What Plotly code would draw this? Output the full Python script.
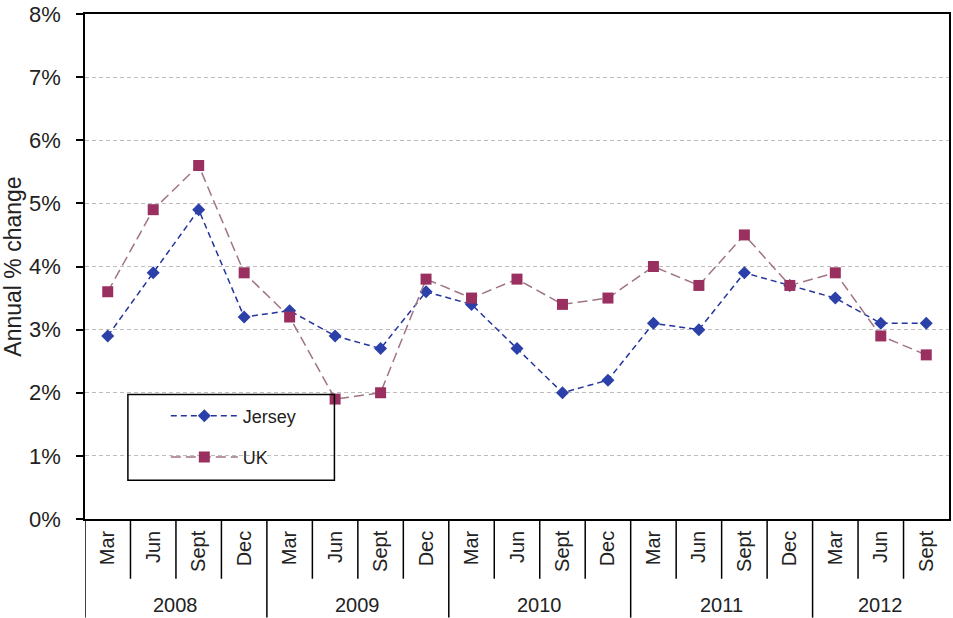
import plotly.graph_objects as go

# Quarterly annual % change, Jersey vs UK
years = ["2008", "2009", "2010", "2011", "2012"]
quarters_per_year = [4, 4, 4, 4, 3]
quarters = ["Mar", "Jun", "Sept", "Dec"] * 4 + ["Mar", "Jun", "Sept"]
jersey = [2.9, 3.9, 4.9, 3.2, 3.3, 2.9, 2.7, 3.6, 3.4, 2.7, 2.0, 2.2,
          3.1, 3.0, 3.9, 3.7, 3.5, 3.1, 3.1]
uk = [3.6, 4.9, 5.6, 3.9, 3.2, 1.9, 2.0, 3.8, 3.5, 3.8, 3.4, 3.5,
      4.0, 3.7, 4.5, 3.7, 3.9, 2.9, 2.6]
y_ticks = [0, 1, 2, 3, 4, 5, 6, 7, 8]
y_tick_labels = ["0%", "1%", "2%", "3%", "4%", "5%", "6%", "7%", "8%"]

W, H = 953, 618
ML, MR, MT, MB = 85, 2, 12, 99
plot_h = H - MT - MB
plot_w = W - ML - MR


def px_to_paper_y(py):
    return (H - MB - py) / plot_h


def px_to_paper_x(px):
    return (px - ML) / plot_w


idx = list(range(len(quarters)))
font = "Liberation Sans, Arial, sans-serif"

fig = go.Figure()
fig.add_trace(go.Scatter(
    x=idx, y=jersey, name="Jersey", mode="lines+markers",
    line=dict(color="#23349E", width=1.5, dash="6px,4px"),
    marker=dict(symbol="diamond", size=10, color="#2B40A8"),
    legendgroup="j",
))
fig.add_trace(go.Scatter(
    x=idx, y=uk, name="UK", mode="lines+markers",
    line=dict(color="#A07484", width=1.5, dash="10px,5px"),
    marker=dict(symbol="square", size=11, color="#99305F"),
    legendgroup="u",
))

shapes = []
# separators under the category axis
pos = -0.5
bounds_year = [pos]
for n in quarters_per_year:
    pos += n
    bounds_year.append(pos)
for b in bounds_year[:-1]:
    shapes.append(dict(type="line", xref="x", yref="paper", x0=b, x1=b,
                       y0=0, y1=px_to_paper_y(H), line=dict(color="black", width=1.5)))
for i in range(len(quarters) - 1):
    b = i + 0.5
    if b in bounds_year:
        continue
    shapes.append(dict(type="line", xref="x", yref="paper", x0=b, x1=b,
                       y0=0, y1=px_to_paper_y(579), line=dict(color="black", width=1.5)))

# legend frame
shapes.append(dict(type="rect", xref="paper", yref="paper",
                   x0=px_to_paper_x(128), x1=px_to_paper_x(335),
                   y0=px_to_paper_y(480), y1=px_to_paper_y(394),
                   line=dict(color="black", width=1.5), fillcolor="rgba(0,0,0,0)"))

annotations = []
start = 0
for yr, n in zip(years, quarters_per_year):
    center = start + (n - 1) / 2
    annotations.append(dict(x=center, y=px_to_paper_y(605), xref="x", yref="paper",
                            text=yr, showarrow=False, yanchor="middle",
                            font=dict(size=20, color="#222", family=font)))
    start += n

fig.update_layout(
    width=W, height=H,
    margin=dict(l=ML, r=MR, t=MT, b=MB),
    paper_bgcolor="white", plot_bgcolor="white",
    font=dict(family=font, color="#222"),
    showlegend=True,
    legend=dict(x=px_to_paper_x(166), y=px_to_paper_y(397), xanchor="left", yanchor="top",
                bgcolor="rgba(0,0,0,0)", borderwidth=0,
                font=dict(size=18, color="#222", family=font),
                itemwidth=67, tracegroupgap=15),
    shapes=shapes,
    annotations=annotations,
    xaxis=dict(
        range=[-0.5, len(quarters) - 0.5],
        tickmode="array", tickvals=idx, ticktext=quarters, tickangle=-90,
        tickfont=dict(size=20, color="#222", family=font),
        showgrid=False, zeroline=False,
        showline=True, linecolor="black", linewidth=1.5, mirror=True,
        ticks="", ticklabelstandoff=2,
    ),
    yaxis=dict(
        range=[0, 8], tickmode="array", tickvals=y_ticks, ticktext=y_tick_labels,
        tickfont=dict(size=22, color="#222", family=font),
        showgrid=True, gridcolor="#BDBDBD", gridwidth=1, griddash="4px,3px",
        zeroline=False,
        showline=True, linecolor="black", linewidth=1.5, mirror=True,
        ticks="outside", ticklen=7, tickcolor="black", tickwidth=1.5,
        ticklabelstandoff=11, ticklabeloverflow="allow",
        title=dict(text="Annual % change", font=dict(size=23, color="#222", family=font),
                   standoff=4),
    ),
)

fig.write_html("out.html")
